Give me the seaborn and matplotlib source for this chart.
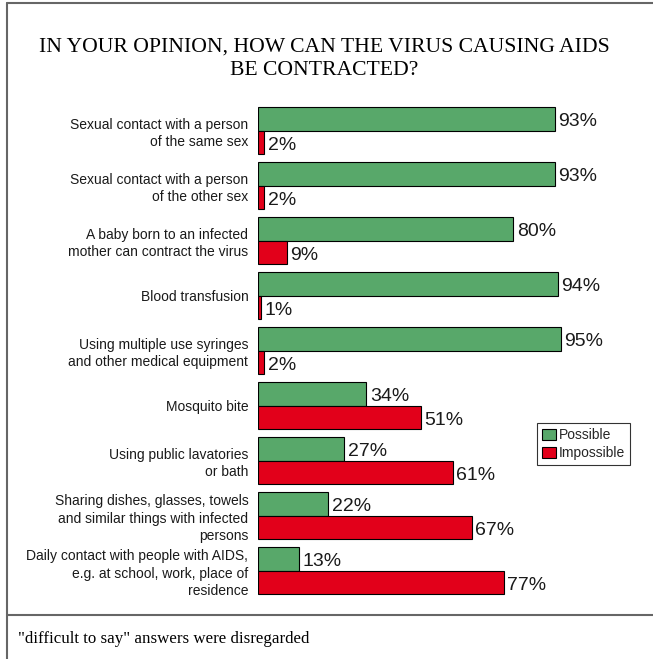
import matplotlib
matplotlib.use("Agg")
import matplotlib.pyplot as plt
import seaborn as sns
import pandas as pd
from matplotlib.lines import Line2D

categories = [
    "Sexual contact with a person\nof the same sex",
    "Sexual contact with a person\nof the other sex",
    "A baby born to an infected\nmother can contract the virus",
    "Blood transfusion",
    "Using multiple use syringes\nand other medical equipment",
    "Mosquito bite",
    "Using public lavatories\nor bath",
    "Sharing dishes, glasses, towels\nand similar things with infected\npersons",
    "Daily contact with people with AIDS,\ne.g. at school, work, place of\nresidence",
]
possible = [93, 93, 80, 94, 95, 34, 27, 22, 13]
impossible = [2, 2, 9, 1, 2, 51, 61, 67, 77]
series = ["Possible", "Impossible"]
title = "IN YOUR OPINION, HOW CAN THE VIRUS CAUSING AIDS\nBE CONTRACTED?"
footnote = '"difficult to say" answers were disregarded'

green = "#58a86a"
red = "#e2001a"

df = pd.DataFrame({
    "category": categories * 2,
    "answer": [series[0]] * len(categories) + [series[1]] * len(categories),
    "value": possible + impossible,
})

sns.set_theme(style="white")
plt.rcParams['font.family'] = ['Liberation Sans', 'DejaVu Sans']

W, H = 653, 659
fig = plt.figure(figsize=(W / 100, H / 100), dpi=100)
ax = fig.add_axes([258 / W, 1 - 598 / H, 319 / W, 495 / H])

sns.barplot(data=df, y="category", x="value", hue="answer", hue_order=series,
            order=categories, palette=[green, red], orient="h", width=0.86,
            saturation=1, edgecolor="black", linewidth=0.8, ax=ax)

ax.set_xlim(0, 100)
ax.set_ylim(len(categories) - 0.5, -0.5)
ax.set_xlabel("")
ax.set_ylabel("")
ax.set_xticks([])
ax.tick_params(axis="y", length=0, pad=7, labelsize=10, labelcolor="#1a1a1a")
for lab in ax.get_yticklabels():
    lab.set_linespacing(1.3)
for s in ax.spines.values():
    s.set_visible(False)

for cont in ax.containers:
    anns = ax.bar_label(cont, fmt="{:.0f}%", padding=2.5, fontsize=14, color="#1a1a1a")
    for a in anns:
        a.xyann = (2.5, -2)

handles, labels = ax.get_legend_handles_labels()
leg = ax.legend(handles, labels, loc="upper left",
                bbox_to_anchor=(537 / W, 1 - 423 / H), bbox_transform=fig.transFigure,
                frameon=True, fancybox=False, fontsize=10, handlelength=1.05,
                handleheight=0.85, handletextpad=0.2, borderpad=0.35,
                labelspacing=0.3, borderaxespad=0)
leg.get_frame().set_edgecolor("black")
leg.get_frame().set_linewidth(0.8)

fig.text(324 / W, 1 - 59 / H, title, ha="center", va="center",
         fontsize=15.6, family=["Liberation Serif"], linespacing=1.3, color="black")
fig.text(18 / W, 1 - 639 / H, footnote, ha="left", va="center",
         fontsize=12.2, family=["Liberation Serif"], color="black")

lc = "#666666"
fig.add_artist(Line2D([7 / W, 7 / W], [0, 1 - 3 / H], color=lc, lw=1.5, transform=fig.transFigure))
fig.add_artist(Line2D([7 / W, 1], [1 - 3 / H, 1 - 3 / H], color=lc, lw=1.5, transform=fig.transFigure))
fig.add_artist(Line2D([7 / W, 1], [1 - 615 / H, 1 - 615 / H], color=lc, lw=1.5, transform=fig.transFigure))

fig.savefig("out.png", dpi=100)
